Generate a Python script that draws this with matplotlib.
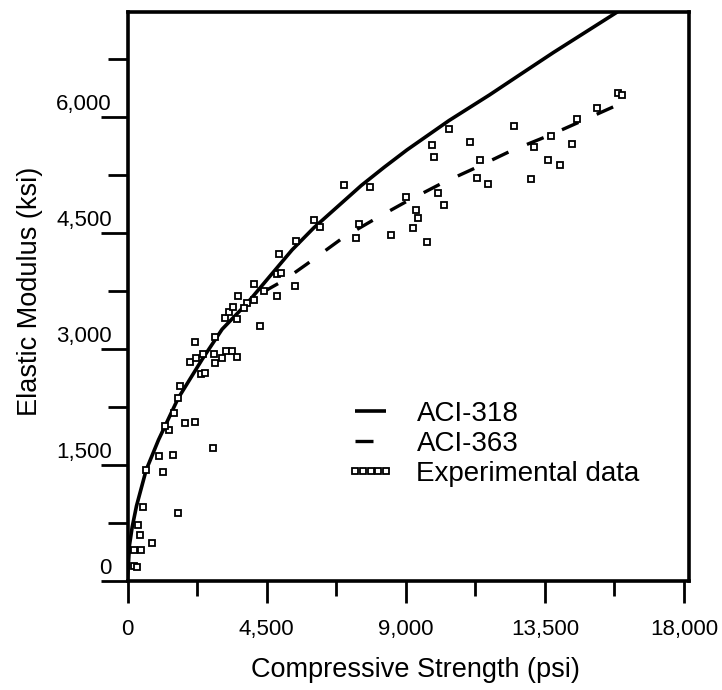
import matplotlib
matplotlib.use("Agg")
import matplotlib.pyplot as plt
import matplotlib.transforms as mtransforms

plt.rcParams['font.family'] = ['Liberation Sans', 'DejaVu Sans']

# ---- data ----
# ACI-318 curve (psi, ksi)
aci318_x = [0, 65, 152, 291, 604, 1002, 1638, 2414, 3060, 3868, 5322, 6020,
            7562, 8300, 9039, 10400, 11708, 12700, 13776, 15857]
aci318_y = [0, 459, 692, 964, 1430, 1818, 2357, 2860, 3250, 3586, 4276, 4560,
            5110, 5345, 5570, 5950, 6281, 6545, 6830, 7358]

# ACI-363 curve (psi, ksi)
aci363_x = [4363, 5051, 5807, 6990, 8047, 9016, 10170, 11301, 12400, 13670,
            14640, 15803]
aci363_y = [3726, 3881, 4095, 4440, 4686, 4901, 5139, 5346, 5557, 5763,
            5935, 6143]

# Experimental data (psi, ksi)
exp_x = [220, 300, 226, 452, 808, 420, 355, 517, 1638, 614, 1154, 1011, 1470,
         2769, 1335, 1852, 2175, 1638, 1713, 2375, 2498, 2036, 2220, 2446,
         2197, 2789, 2844, 3060, 3190, 3384, 3545, 2844, 3167, 3545, 3274,
         3403, 3577, 4081, 4104, 4275, 4427, 4838, 4838, 4961, 4912, 5406,
         5461, 6020, 6237, 6990, 7853, 7475, 7400, 8531, 9000, 9323, 9404,
         9233, 9695, 10034, 10228, 9921, 9847, 10406, 11084, 11408, 11301,
         11666, 12506, 13056, 13162, 13702, 13615, 13993, 14364, 14542,
         15172, 15857, 15980, 3868, 3758, 1496, 1228]
exp_y = [190, 170, 401, 401, 481, 589, 718, 955, 877, 1430, 1408, 1617, 1624,
         1708, 1941, 2041, 2048, 2355, 2512, 2671, 2678, 2827, 2875, 2924,
         3089, 2926, 2818, 2875, 2973, 2963, 2885, 3146, 3392, 3379, 3477,
         3534, 3677, 3629, 3832, 3286, 3749, 3681, 3969, 3978, 4226, 3816,
         4396, 4657, 4573, 5117, 5084, 4612, 4427, 4470, 4961, 4793, 4686,
         4556, 4379, 5013, 4858, 5479, 5634, 5837, 5677, 5440, 5211, 5133,
         5880, 5194, 5608, 5750, 5440, 5375, 5643, 5966, 6109, 6300, 6281,
         3586, 3521, 2167, 1999]

x_major = [0, 4500, 9000, 13500, 18000]
x_major_labels = ['0', '4,500', '9,000', '13,500', '18,000']
x_minor = [2250, 6750, 11250, 15750]
y_major = [0, 1500, 3000, 4500, 6000]
y_major_labels = ['0', '1,500', '3,000', '4,500', '6,000']
y_minor = [750, 2250, 3750, 5250, 6750]

# ---- figure ----
fig = plt.figure(figsize=(7.22, 6.90), dpi=100)
ax = fig.add_axes([127.5 / 722, 1 - 580.5 / 690, (689 - 127.5) / 722, (580.5 - 11.7) / 690])

ax.plot(aci318_x, aci318_y, color='black', lw=2.6, solid_capstyle='butt',
        solid_joinstyle='round', label='ACI-318', zorder=3)
ax.plot(aci363_x, aci363_y, color='black', lw=2.4, linestyle=(0, (5.4, 6.0)),
        label='ACI-363', zorder=3)
ax.plot(exp_x, exp_y, linestyle='none', marker='s', ms=4.8, mfc='white',
        mec='black', mew=1.3, label='Experimental data', zorder=4)

ax.set_xlim(0, 18162)
ax.set_ylim(0, 7358)

ax.set_xticks(x_major)
ax.set_xticklabels(x_major_labels)
ax.set_xticks(x_minor, minor=True)
ax.set_yticks(y_major)
ax.set_yticklabels(y_major_labels)
ax.set_yticks(y_minor, minor=True)

ax.tick_params(axis='x', which='major', direction='out', length=15.8, width=2.0,
               pad=12, labelsize=16)
ax.tick_params(axis='x', which='minor', direction='out', length=10.8, width=2.0)
ax.tick_params(axis='y', which='major', direction='out', length=19.4, width=2.0,
               pad=-8, labelsize=16)
ax.tick_params(axis='y', which='minor', direction='out', length=14.4, width=2.0)

offset = mtransforms.ScaledTranslation(0, 0.15, fig.dpi_scale_trans)
for lab in ax.get_yticklabels():
    lab.set_transform(lab.get_transform() + offset)

for sp in ax.spines.values():
    sp.set_linewidth(2.6)

ax.set_xlabel('Compressive Strength (psi)', fontsize=19.5)
ax.set_ylabel('Elastic Modulus (ksi)', fontsize=19.5)
ax.xaxis.set_label_coords(0.513, -0.1345)
ax.yaxis.set_label_coords(-0.150, 0.509)

leg = ax.legend(loc='upper left', bbox_to_anchor=(0.39, 0.316), frameon=False,
                fontsize=20, handlelength=1.73, handletextpad=0.79,
                labelspacing=0.15, borderpad=0, borderaxespad=0, numpoints=5)

fig.savefig('out.png', dpi=100)
